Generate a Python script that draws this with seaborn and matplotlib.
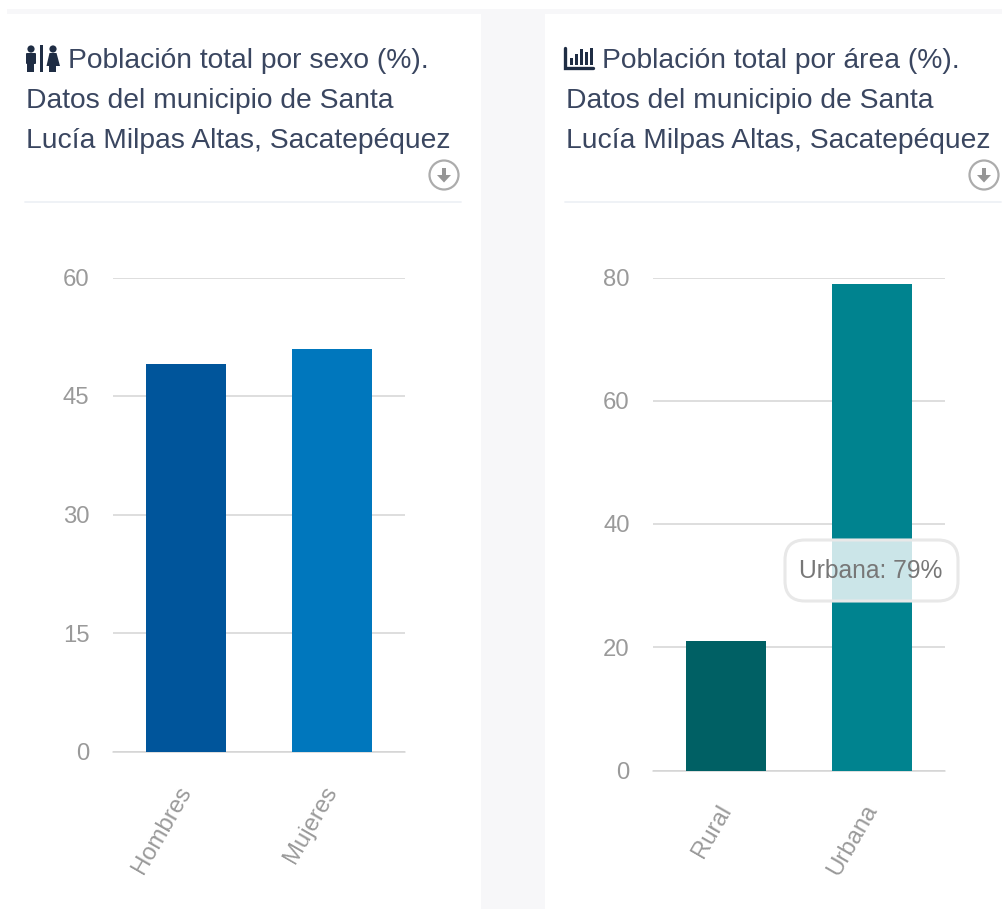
import matplotlib
matplotlib.use("Agg")
import matplotlib.pyplot as plt
from matplotlib.patches import Rectangle, Circle, FancyBboxPatch, Polygon
import pandas as pd
import seaborn as sns

# datos de las dos graficas
sexo_cat = ["Hombres", "Mujeres"]
sexo_val = [49, 51]
sexo_col = ["#00559b", "#0077bd"]
sexo_ticks = [0, 15, 30, 45, 60]

area_cat = ["Rural", "Urbana"]
area_val = [21, 79]
area_col = ["#006064", "#00838f"]
area_ticks = [0, 20, 40, 60, 80]

titulo_sexo = ["Población total por sexo (%).", "Datos del municipio de Santa", "Lucía Milpas Altas, Sacatepéquez"]
titulo_area = ["Población total por área (%).", "Datos del municipio de Santa", "Lucía Milpas Altas, Sacatepéquez"]

W, H = 1003, 909
GRIS = "#9a9a9a"
OSCURO = "#3a4660"
ICONO = "#1f2d44"

sns.set_theme(style="white")
plt.rcParams["font.family"] = ["Liberation Sans", "DejaVu Sans"]


# convierte una caja en pixeles a coordenadas de figura
def caja(x0, y0, x1, y1):
    return [x0 / W, 1 - y1 / H, (x1 - x0) / W, (y1 - y0) / H]


def capa(fig, z):
    a = fig.add_axes([0, 0, 1, 1], zorder=z)
    a.set_xlim(0, W)
    a.set_ylim(H, 0)
    a.axis("off")
    return a


def grafica(fig, pos, cats, vals, cols, ticks):
    ax = fig.add_axes(caja(*pos), zorder=1)
    df = pd.DataFrame({"cat": cats, "val": vals})
    sns.barplot(data=df, x="cat", y="val", hue="cat", palette=cols, legend=False,
                width=0.548, saturation=1, linewidth=0, edgecolor="none", ax=ax, zorder=3)
    ax.set_xlim(-0.5, 1.5)
    ax.set_ylim(ticks[0], ticks[-1])
    ax.set_yticks(ticks)
    ax.set_xlabel("")
    ax.set_ylabel("")
    ax.patch.set_alpha(0)
    sns.despine(ax=ax, left=True, bottom=True, top=True, right=True)
    ax.grid(axis="y", color="#d4d4d4", lw=1.1, zorder=0)
    ax.set_axisbelow(True)
    ax.axhline(ticks[0], color="#d4d4d4", lw=1.1, zorder=2, clip_on=False)
    ax.tick_params(axis="y", length=0, pad=17, labelsize=17.2, labelcolor=GRIS)
    ax.tick_params(axis="x", length=0, pad=26, labelsize=17.2, labelcolor=GRIS)
    plt.setp(ax.get_xticklabels(), rotation=60, ha="right", va="center", rotation_mode="anchor")
    return ax


def descarga(a, cx, cy):
    a.add_patch(Circle((cx, cy), 14.5, fill=False, ec="#acacac", lw=1.6))
    a.add_patch(Rectangle((cx - 2, cy - 7), 4, 8, color="#969696", lw=0))
    a.add_patch(Polygon([(cx - 7, cy), (cx + 7, cy), (cx, cy + 7.5)], color="#969696", lw=0))


fig = plt.figure(figsize=(W / 100, H / 100), dpi=100, facecolor="white")

# fondo y tarjetas
fondo = capa(fig, 0)
fondo.add_patch(Rectangle((7, 9), W - 7, H - 9, color="#f7f7f9", lw=0))
fondo.add_patch(Rectangle((7, 14), 474, H - 14, color="white", lw=0))
fondo.add_patch(Rectangle((545, 14), W - 545, H - 14, color="white", lw=0))
fondo.plot([25, 461], [202, 202], color="#eef1f6", lw=1.3)
fondo.plot([565, 1001], [202, 202], color="#eef1f6", lw=1.3)

grafica(fig, (113.2, 277.5, 405.2, 751.5), sexo_cat, sexo_val, sexo_col, sexo_ticks)
grafica(fig, (653.2, 277.5, 945.2, 770.5), area_cat, area_val, area_col, area_ticks)

tope = capa(fig, 2)

# titulos
for i, linea in enumerate(titulo_sexo):
    tope.text(68 if i == 0 else 26, 61 + 40 * i, linea, fontsize=20.3, color=OSCURO, va="center", ha="left")
for i, linea in enumerate(titulo_area):
    tope.text(602 if i == 0 else 566, 61 + 40 * i, linea, fontsize=20.3, color=OSCURO, va="center", ha="left")

# icono de personas
tope.add_patch(Circle((31, 49), 3.6, color=ICONO, lw=0))
tope.add_patch(FancyBboxPatch((27, 54), 8, 9, boxstyle="round,pad=1", color=ICONO, lw=0))
tope.add_patch(Rectangle((27.5, 62), 7, 10, color=ICONO, lw=0))
tope.add_patch(Rectangle((40, 45), 3, 27, color=ICONO, lw=0))
tope.add_patch(Circle((53, 49), 3.6, color=ICONO, lw=0))
tope.add_patch(Polygon([(49.5, 53), (56.5, 53), (60, 66), (46.5, 66)], color=ICONO, lw=0))
tope.add_patch(Rectangle((49.5, 66), 7, 6, color=ICONO, lw=0))

# icono de barras
tope.plot([565.5, 565.5, 593], [48, 68, 68], color=ICONO, lw=2.4, solid_joinstyle="miter")
for x, y in [(570, 58), (575, 54), (580, 49), (585, 52), (590, 48)]:
    tope.add_patch(Rectangle((x, y), 2.6, 65 - y, color=ICONO, lw=0))

descarga(tope, 444, 175)
descarga(tope, 984, 175)

# tooltip sobre la barra urbana
tope.add_patch(FancyBboxPatch((785, 540), 173, 61, boxstyle="round,pad=0,rounding_size=20",
                              fc=(1, 1, 1, 0.8), ec="#e8e8e8", lw=2.2, mutation_aspect=1))
tope.text(871, 571, f"{area_cat[1]}: {area_val[1]}%", fontsize=17.7, color="#777777", ha="center", va="center")

fig.savefig("out.png", dpi=100)
